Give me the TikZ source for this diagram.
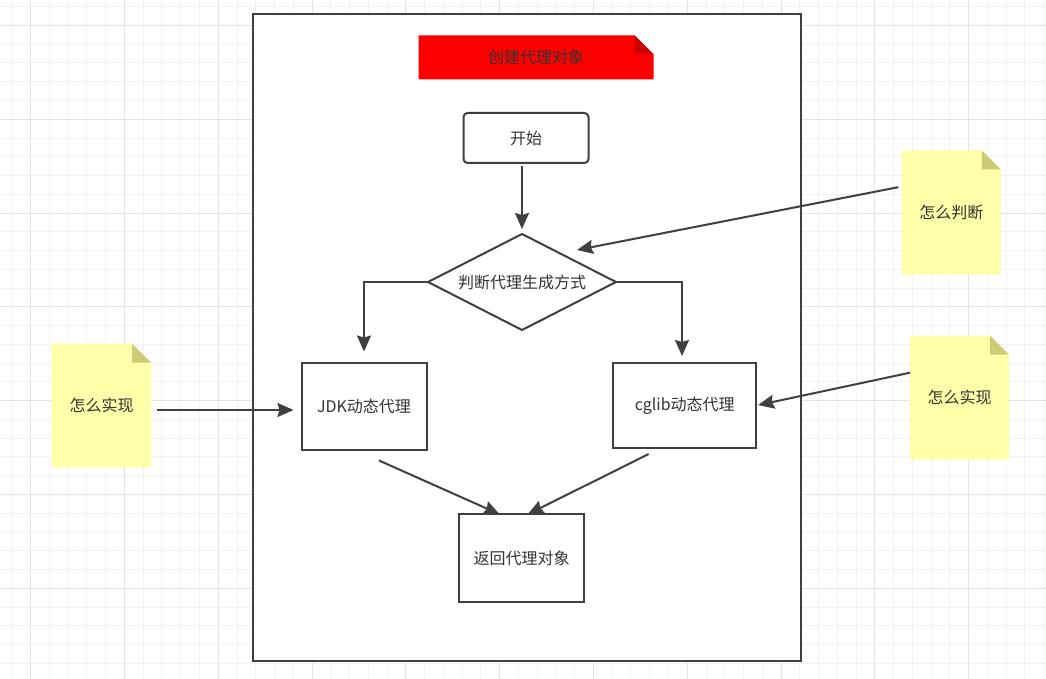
\documentclass[tikz,border=0pt]{standalone}
\usepackage{fontspec}
\setmainfont{Noto Sans CJK SC}
\usetikzlibrary{shapes.geometric,arrows.meta,calc,backgrounds}
\definecolor{linegray}{HTML}{404040}
\definecolor{textgray}{HTML}{333333}
\definecolor{gridminor}{HTML}{F2F2F2}
\definecolor{gridmajor}{HTML}{E3E3E3}
\definecolor{noteyellow}{HTML}{FFFFAA}
\definecolor{notefold}{HTML}{CCCC77}
\definecolor{titlered}{HTML}{FF0000}
\definecolor{titlefold}{HTML}{CC0000}

\begin{document}
\begin{tikzpicture}[x=1pt, y=-1pt, >={Stealth[length=16pt,width=14pt,inset=2pt]},
	every node/.style={font=\fontsize{16}{19}\selectfont, text=textgray, inner sep=0pt, outer sep=0pt},
	box/.style={draw=linegray, line width=2pt, fill=white},
	flow/.style={->, draw=linegray, line width=2pt},
	note/.style={minimum width=99pt, minimum height=124pt}]
	
	\useasboundingbox (0,0) rectangle (1046,679);
	
	% flow chart
	\node[minimum width=235pt, minimum height=44pt] (title) at (536,57.3) {创建代理对象};
	\node[box, rounded corners=4pt, minimum width=125pt, minimum height=50pt] (start) at (526,138) {开始};
	\node[box, diamond, aspect=1.96, minimum width=188pt, minimum height=96pt] (dia) at (522,282) {判断代理生成方式};
	\node[box, minimum width=125pt, minimum height=87pt] (jdk) at (364,406) {JDK动态代理};
	\node[box, minimum width=143pt, minimum height=85pt] (cglib) at (684.7,405.5) {cglib动态代理};
	\node[box, minimum width=125pt, minimum height=88pt] (ret) at (521.7,558.3) {返回代理对象};
	
	% notes
	\node[note] (judge) at (951.3,212.5) {怎么判断};
	\node[note] (implL) at (101.5,405.5) {怎么实现};
	\node[note] (implR) at (959.5,397.7) {怎么实现};
	
	\coordinate (hit) at ($(dia.north)+(55,16)$);
	\coordinate (jdkout) at ($(jdk.south)+(15,11)$);
	\coordinate (cglibout) at ($(cglib.south)+(-36,6)$);
	
	\draw[flow, shorten <=3.5pt, shorten >=5pt] (start.south -| dia.north) -- (dia.north);
	\draw[flow, shorten >=11pt] (dia.west) -| (jdk.north);
	\draw[flow, shorten >=7pt] (dia.east) -| ([xshift=-2.7pt]cglib.north);
	\draw[flow, shorten <=3.5pt] ([yshift=26pt]judge.west) -- (hit);
	\draw[flow, shorten <=6pt, shorten >=8pt] ([yshift=-4.5pt]implL.east) -- ([yshift=-4.5pt]implL.east -| jdk.west);
	\draw[flow, shorten >=2pt] ([yshift=25pt]implR.west) -- (cglib.east);
	\draw[flow] (jdkout) -- ($(ret.north)+(-22,0)$);
	\draw[flow] (cglibout) -- ($(ret.north)+(6,0)$);
	
	\begin{scope}[on background layer]
		% grid
		\foreach \k in {0,...,55}
			\draw[gridminor, line width=1pt] (11.9+18.76*\k,0) -- (11.9+18.76*\k,679);
		\foreach \k in {0,...,35}
			\draw[gridminor, line width=1pt] (0,6.7+18.76*\k) -- (1046,6.7+18.76*\k);
		\foreach \k in {1,6,...,51}
			\draw[gridmajor, line width=1pt] (11.9+18.76*\k,0) -- (11.9+18.76*\k,679);
		\foreach \k in {1,6,...,31}
			\draw[gridmajor, line width=1pt] (0,6.7+18.76*\k) -- (1046,6.7+18.76*\k);
		
		\draw[linegray, line width=2pt, fill=white] (253,14) rectangle (800.5,660.5);
		
		% folded corners
		\foreach \n/\c/\f in {judge/noteyellow/notefold, implL/noteyellow/notefold, implR/noteyellow/notefold, title/titlered/titlefold} {
			\fill[\c] (\n.south west) -- (\n.north west) -- ([xshift=-19pt]\n.north east) -- ([yshift=-19pt]\n.north east) -- (\n.south east) -- cycle;
			\fill[\f] ([xshift=-19pt]\n.north east) -- ([xshift=-19pt,yshift=-19pt]\n.north east) -- ([yshift=-19pt]\n.north east) -- cycle;
		}
	\end{scope}
	
\end{tikzpicture}
\end{document}
